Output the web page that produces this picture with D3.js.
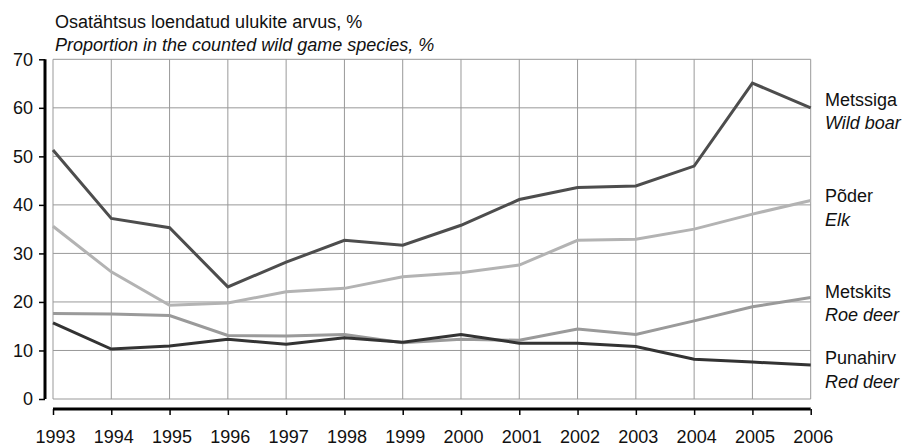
<!DOCTYPE html>
<html><head><meta charset="utf-8">
<script src="https://cdn.jsdelivr.net/npm/d3@7"></script>
<style>
html,body{margin:0;padding:0;background:#fff;}
svg{display:block;font-family:"Liberation Sans",Arial,sans-serif;}
</style></head>
<body>
<svg id="c" width="908" height="446"></svg>
<script>
const years = [1993,1994,1995,1996,1997,1998,1999,2000,2001,2002,2003,2004,2005,2006];
const wildBoar = [51.3,37.2,35.3,23.1,28.2,32.7,31.7,35.8,41.1,43.6,43.9,48.0,65.1,60.0];
const elk      = [35.6,26.2,19.3,19.8,22.1,22.8,25.2,26.0,27.6,32.7,32.9,35.0,38.1,40.9];
const roeDeer  = [17.6,17.5,17.2,13.1,13.0,13.3,11.6,12.3,12.1,14.4,13.3,16.1,19.0,20.9];
const redDeer  = [15.7,10.3,10.9,12.3,11.3,12.6,11.7,13.3,11.5,11.5,10.8,8.2,7.6,7.0];
const yTicks = [0,10,20,30,40,50,60,70];
const seriesNames = [
  {et:"Metssiga", en:"Wild boar", values: wildBoar, color:"#4d4d4d", ly:99.5},
  {et:"Põder", en:"Elk", values: elk, color:"#b3b3b3", ly:196},
  {et:"Metskits", en:"Roe deer", values: roeDeer, color:"#9a9a9a", ly:291.5},
  {et:"Punahirv", en:"Red deer", values: redDeer, color:"#333333", ly:358}
];
const titleEt = "Osatähtsus loendatud ulukite arvus, %";
const titleEn = "Proportion in the counted wild game species, %";

const svg = d3.select("#c");
const FS = 18;
const x = d3.scaleLinear().domain([1993,2006]).range([53,810.7]);
const y = d3.scaleLinear().domain([0,70]).range([399,59.3]);

// title
svg.append("text").attr("x",55).attr("y",22).attr("dy","0.35em").attr("font-size",FS).attr("fill","#111").text(titleEt);
svg.append("text").attr("x",55).attr("y",45).attr("dy","0.35em").attr("font-size",FS).attr("font-style","italic").attr("fill","#111").text(titleEn);

// grid
const grid = svg.append("g");
grid.selectAll("line.h").data(yTicks).join("line")
  .attr("x1",x(1993)).attr("x2",x(2006)).attr("y1",d=>y(d)).attr("y2",d=>y(d))
  .attr("stroke","#999").attr("stroke-width",1);
grid.selectAll("line.v").data(years).join("line")
  .attr("x1",d=>x(d)).attr("x2",d=>x(d)).attr("y1",y(0)).attr("y2",y(70))
  .attr("stroke","#999").attr("stroke-width",1);

// y axis
const yAxis = d3.axisLeft(y).tickValues(yTicks).tickSize(6).tickPadding(6).tickFormat(d3.format("d"));
const gy = svg.append("g").attr("transform","translate(45,0)").call(yAxis);
gy.select(".domain").attr("stroke","#000").attr("stroke-width",3).attr("d",`M0,${y(70)}V${y(0)}`);
gy.selectAll(".tick line").attr("stroke","#000").attr("stroke-width",1.5);
gy.selectAll(".tick text").attr("font-size",FS).attr("fill","#111").attr("font-family","Liberation Sans, Arial, sans-serif");

// x axis
const xAxis = d3.axisBottom(x).tickValues(years).tickSize(6).tickPadding(15).tickFormat(d3.format("d"));
const gx = svg.append("g").attr("transform","translate(0,409)").call(xAxis);
gx.select(".domain").attr("stroke","#000").attr("stroke-width",3).attr("d",`M${x(1993)},0H${x(2006)}`);
gx.selectAll(".tick line").attr("stroke","#000").attr("stroke-width",1.5);
gx.selectAll(".tick text").attr("font-size",FS).attr("fill","#111").attr("font-family","Liberation Sans, Arial, sans-serif").attr("dx",2);

// lines
const line = d3.line().x((d,i)=>x(years[i])).y(d=>y(d));
svg.append("g").selectAll("path").data(seriesNames).join("path")
  .attr("d",d=>line(d.values)).attr("fill","none").attr("stroke",d=>d.color)
  .attr("stroke-width",3).attr("stroke-linejoin","miter");

// labels
const lg = svg.append("g");
seriesNames.forEach(s=>{
  lg.append("text").attr("x",825).attr("y",s.ly).attr("dy","0.35em").attr("font-size",FS).attr("fill","#111").text(s.et);
  lg.append("text").attr("x",825).attr("y",s.ly+23.5).attr("dy","0.35em").attr("font-size",FS).attr("font-style","italic").attr("fill","#111").text(s.en);
});
</script>
</body></html>
